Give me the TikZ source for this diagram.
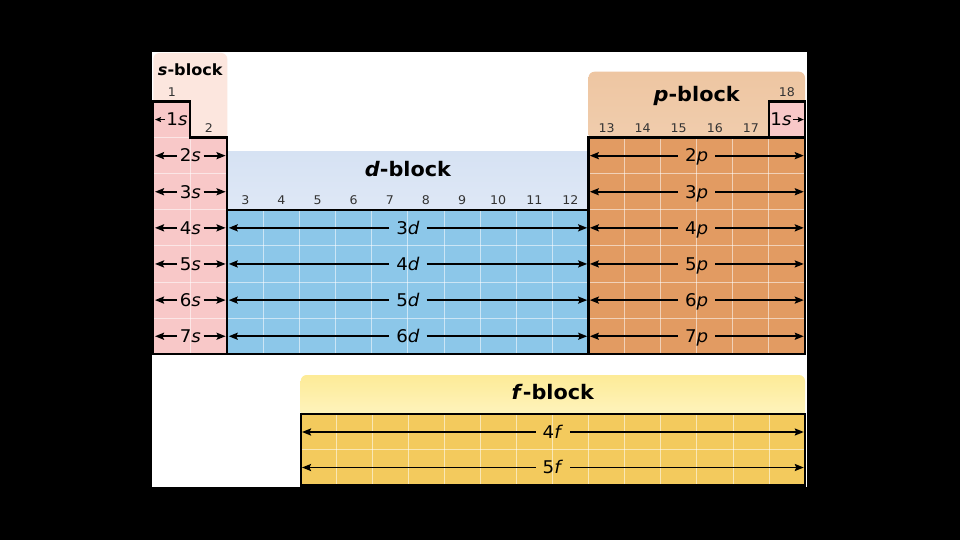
\documentclass[tikz,border=0pt]{standalone}
\usepackage{fontspec}
\setmainfont{DejaVu Sans}
\usetikzlibrary{arrows.meta}
\definecolor{shead}{HTML}{FCE6DE}
\definecolor{sbody}{HTML}{F8C8C8}
\definecolor{dheadtop}{HTML}{D6E2F3}
\definecolor{dheadbot}{HTML}{DFE8F6}
\definecolor{dbody}{HTML}{8CC7E9}
\definecolor{phead}{HTML}{EEC6A2}
\definecolor{pbody}{HTML}{E29B62}
\definecolor{fheadtop}{HTML}{FDEB97}
\definecolor{fheadbot}{HTML}{FEF4C0}
\definecolor{fbody}{HTML}{F3CA5D}
\newcommand{\hs}[2][1.04]{\scalebox{#1}[1]{#2}}
\begin{document}
\begin{tikzpicture}[x=1pt,y=-1pt,
  border/.style={line width=2.2pt, line join=miter},
  gridline/.style={white, opacity=0.55, line width=0.9pt},
  arr/.style={line width=1.9pt, -{Stealth[length=9pt,width=7pt,inset=1.5pt]}},
  sarr/.style={line width=1.6pt, -{Stealth[length=6pt,width=5pt,inset=1pt]}},
  lbl/.style={font=\fontsize{17.5}{17.5}\selectfont, text height=12.5pt, text depth=0pt, inner ysep=0pt, inner xsep=7pt},
  slbl/.style={lbl, inner xsep=2.5pt},
  grp/.style={font=\fontsize{12}{12}\selectfont, anchor=base, inner sep=0pt, text=black!80},
  ttl/.style={font=\bfseries\fontsize{20}{20}\selectfont, anchor=base, inner sep=0pt},
  sttl/.style={font=\bfseries\fontsize{15.5}{15.5}\selectfont, anchor=base, inner sep=0pt},
]
\fill[black] (0,0) rectangle (960,540);
\useasboundingbox (0,0) rectangle (960,540);
\fill[white] (152,52.5) rectangle (807,486.5);
\begin{scope}
\clip (152,52.5) rectangle (807,486.5);
% headers
\fill[shead, rounded corners=6pt] (153.3,53) rectangle (227.3,140);
\shade[top color=dheadtop, bottom color=dheadbot] (225,151.7) rectangle (590,212);
\shade[top color=phead, bottom color=phead!88!white, rounded corners=6pt] (588.5,71.7) rectangle (805,140);
\shade[top color=fheadtop, bottom color=fheadbot, rounded corners=6pt] (300.7,375) rectangle (805,418);
% bodies
\fill[sbody] (153.3,101.5) -- (190.3,101.5) -- (190.3,137.6) -- (227.3,137.6) -- (227.3,354.3) -- (153.3,354.3) -- cycle;
\fill[dbody] (227.3,209.8) rectangle (588.5,354.3);
\fill[pbody] (588.5,137.6) rectangle (805,354.3);
\fill[sbody] (768.9,101.5) rectangle (805,137.6);
\fill[fbody] (300.7,414) rectangle (805,485.5);
% grid lines
\draw[gridline] (190.3,137.6) -- (190.3,354.3);
\draw[gridline] (153.3,137.6) -- (190.3,137.6);
\foreach \y in {173.7,209.8,245.9,282.0,318.2} \draw[gridline] (153.3,\y) -- (227.3,\y);
\foreach \x in {263.42,299.54,335.66,371.78,407.9,444.02,480.14,516.26,552.38} \draw[gridline] (\x,209.8) -- (\x,354.3);
\foreach \y in {245.9,282.0,318.2} \draw[gridline] (227.3,\y) -- (588.5,\y);
\foreach \x in {624.58,660.66,696.74,732.82,768.9} \draw[gridline] (\x,137.6) -- (\x,354.3);
\foreach \y in {173.7,209.8,245.9,282.0,318.2} \draw[gridline] (588.5,\y) -- (805,\y);
\foreach \x in {336.72,372.74,408.76,444.78,480.8,516.82,552.84,588.86,624.88,660.9,696.92,732.94,768.96} \draw[gridline] (\x,414) -- (\x,485.5);
\draw[gridline] (300.7,449.8) -- (805,449.8);
% borders
\draw[border] (153.3,101.5) -- (190.3,101.5) -- (190.3,137.6) -- (227.3,137.6) -- (227.3,354.3) -- (153.3,354.3) -- cycle;
\draw[border] (227.3,209.8) rectangle (588.5,354.3);
\draw[border] (588.5,137.6) rectangle (805,354.3);
\draw[border] (768.9,101.5) rectangle (805,137.6);
\draw[border] (300.7,414) rectangle (805,485.5);
% titles
\node[sttl] (ts) at (190.3,76) {\hs{\textit{s}-block}};
\node[ttl] (td) at (407.9,177) {\hs{\textit{d}-block}};
\node[ttl] (tp) at (696.7,102) {\hs{\textit{p}-block}};
\node[ttl] (tf) at (552.85,399) {\hs{\textit{f}-block}};
% group numbers
\foreach \n/\x/\y in {1/171.8/96.5, 2/208.8/132.6, 3/245.36/204.8, 4/281.48/204.8, 5/317.6/204.8, 6/353.72/204.8, 7/389.84/204.8, 8/425.96/204.8, 9/462.08/204.8, 10/498.2/204.8, 11/534.32/204.8, 12/570.44/204.8, 13/606.54/132.6, 14/642.62/132.6, 15/678.7/132.6, 16/714.78/132.6, 17/750.86/132.6, 18/786.94/96.5}
  \node[grp] (g\n) at (\x,\y) {\hs[1.05]{\n}};
% 1s cells
\node[lbl, inner xsep=1.2pt] (hy) at (177,119.55) {\hs{1\textit{s}}};
\coordinate (hyL) at (155,119.55);
\draw[sarr] (hy) -- (hyL);
\node[lbl, inner xsep=1.2pt] (he) at (781,119.55) {\hs{1\textit{s}}};
\coordinate (heR) at (803.8,119.55);
\draw[sarr] (he) -- (heR);
% s rows
\foreach \r/\y in {2/155.65,3/191.75,4/227.85,5/263.95,6/300.1,7/336.25}{
  \node[slbl] (s\r) at (190.3,\y) {\hs{\r\textit{s}}};
  \coordinate (sL\r) at (155,\y);
  \coordinate (sR\r) at (225.6,\y);
  \draw[arr] (s\r) -- (sL\r);
  \draw[arr] (s\r) -- (sR\r);
}
% d rows
\foreach \n/\y in {3/227.85,4/263.95,5/300.1,6/336.25}{
  \node[lbl] (d\n) at (407.9,\y) {\hs{\n\textit{d}}};
  \coordinate (dL\n) at (228.7,\y);
  \coordinate (dR\n) at (587.2,\y);
  \draw[arr] (d\n) -- (dL\n);
  \draw[arr] (d\n) -- (dR\n);
}
% p rows
\foreach \n/\y in {2/155.65,3/191.75,4/227.85,5/263.95,6/300.1,7/336.25}{
  \node[lbl] (p\n) at (696.7,\y) {\hs{\n\textit{p}}};
  \coordinate (pL\n) at (589.8,\y);
  \coordinate (pR\n) at (803.8,\y);
  \draw[arr] (p\n) -- (pL\n);
  \draw[arr] (p\n) -- (pR\n);
}
% f rows
\foreach \n/\y in {4/432,5/467.5}{
  \node[lbl] (f\n) at (552.85,\y) {\hs{\n\textit{f}}};
  \coordinate (fL\n) at (302,\y);
  \coordinate (fR\n) at (803.8,\y);
  \draw[arr] (f\n) -- (fL\n);
  \draw[arr] (f\n) -- (fR\n);
}
\end{scope}
\end{tikzpicture}
\end{document}
